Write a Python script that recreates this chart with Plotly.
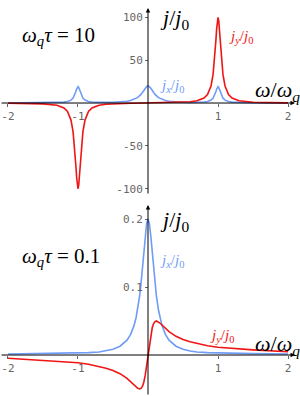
import plotly.graph_objects as go

# ---------------- data ----------------
# top panel: omega_q tau = 10
x_top = [-2, -1.7, -1.5, -1.3, -1.2, -1.15, -1.1, -1.07, -1.05, -1.04, -1.03, -1.02, -1.01, -1,
         -0.99, -0.98, -0.97, -0.96, -0.95, -0.93, -0.9, -0.85, -0.8, -0.7, -0.6, -0.5, -0.4,
         -0.3, -0.25, -0.2, -0.15, -0.1, -0.07, -0.05, -0.03, -0.015, 0,
         0.015, 0.03, 0.05, 0.07, 0.1, 0.15, 0.2, 0.25, 0.3, 0.4, 0.5, 0.6, 0.7, 0.8, 0.85,
         0.9, 0.93, 0.95, 0.96, 0.97, 0.98, 0.99, 1, 1.01, 1.02, 1.03, 1.04, 1.05, 1.07, 1.1,
         1.15, 1.2, 1.3, 1.5, 1.7, 2]
jx_top = [0.09, 0.15, 0.24, 0.54, 1.06, 1.72, 3.37, 5.73, 8.68, 10.8, 13.4, 16.1, 18.3, 19.2,
          18.3, 16.1, 13.4, 10.8, 8.72, 5.79, 3.44, 1.84, 1.23, 0.83, 0.8, 0.94, 1.3,
          2.1, 2.85, 4.09, 6.23, 10.08, 13.45, 16.07, 18.42, 19.63, 20.08,
          19.63, 18.42, 16.07, 13.45, 10.08, 6.23, 4.09, 2.85, 2.1, 1.3, 0.94, 0.8, 0.83, 1.23, 1.84,
          3.44, 5.79, 8.72, 10.8, 13.4, 16.1, 18.3, 19.2, 18.3, 16.1, 13.4, 10.8, 8.68, 5.73, 3.37,
          1.72, 1.06, 0.54, 0.24, 0.15, 0.09]
jy_top = [-0.22, -0.48, -0.95, -2.65, -5.8, -9.9, -19.9, -33.7, -50, -61, -73.5, -86.2, -96.2, -100,
          -96.2, -86.2, -73.5, -61, -50, -33.7, -19.9, -9.9, -5.8, -2.6, -1.44, -0.88, -0.56,
          -0.36, -0.28, -0.22, -0.16, -0.1, -0.07, -0.05, -0.03, -0.015, 0,
          0.015, 0.03, 0.05, 0.07, 0.1, 0.16, 0.22, 0.28, 0.36, 0.56, 0.88, 1.44, 2.6, 5.8, 9.9,
          19.9, 33.7, 50, 61, 73.5, 86.2, 96.2, 100, 96.2, 86.2, 73.5, 61, 50, 33.7, 19.9,
          9.9, 5.8, 2.65, 0.95, 0.48, 0.22]

# bottom panel: omega_q tau = 0.1
x_bot = [-2, -1.5, -1.2, -1, -0.85, -0.7, -0.6, -0.5, -0.4, -0.3, -0.25, -0.2, -0.17, -0.15,
         -0.12, -0.1, -0.08, -0.06, -0.04, -0.02, 0,
         0.02, 0.04, 0.06, 0.08, 0.1, 0.12, 0.15, 0.17, 0.2, 0.25, 0.3, 0.4, 0.5, 0.6, 0.7,
         0.85, 1, 1.2, 1.5, 2]
jx_bot = [0.0015, 0.002, 0.0025, 0.003, 0.0035, 0.0045, 0.006, 0.0084, 0.0129, 0.0218, 0.03,
          0.0432, 0.0552, 0.0658, 0.0867, 0.1049, 0.1266, 0.1507, 0.1747, 0.193, 0.2,
          0.193, 0.1747, 0.1507, 0.1266, 0.1049, 0.0867, 0.0658, 0.0552, 0.0432, 0.03, 0.0218,
          0.0129, 0.0084, 0.006, 0.0045, 0.0035, 0.003, 0.0025, 0.002, 0.0015]
jy_bot = [-0.0048, -0.0076, -0.0097, -0.0115, -0.0137, -0.0167, -0.0194, -0.0227, -0.0275,
          -0.0345, -0.0392, -0.0441, -0.047, -0.0488, -0.05, -0.0492, -0.0462, -0.04, -0.03,
          -0.0162, 0,
          0.0162, 0.03, 0.04, 0.0462, 0.0492, 0.05, 0.0488, 0.047, 0.0441, 0.0392, 0.0345,
          0.0275, 0.0227, 0.0194, 0.0167, 0.0137, 0.0115, 0.0097, 0.0076, 0.0048]

x_ticks = [-2, -1, 1, 2]
x_ticktext = ["-2", "-1", "1", "2"]
y_ticks_top = [-100, -50, 50, 100]
y_ticktext_top = ["-100", "-50", "50", "100"]
y_ticks_bot = [0.1, 0.2]
y_ticktext_bot = ["0.1", "0.2"]

RED = "#f01414"
BLUE = "#6f9cf7"
W, H = 300, 396

def px(x):
    return x / W

def py(y):
    return 1 - y / H

fig = go.Figure()
fig.add_trace(go.Scatter(x=x_top, y=jx_top, mode="lines", line=dict(color=BLUE, width=1.6),
                         xaxis="x", yaxis="y"))
fig.add_trace(go.Scatter(x=x_top, y=jy_top, mode="lines", line=dict(color=RED, width=1.6),
                         xaxis="x", yaxis="y"))
fig.add_trace(go.Scatter(x=x_bot, y=jx_bot, mode="lines", line=dict(color=BLUE, width=1.6),
                         xaxis="x2", yaxis="y2"))
fig.add_trace(go.Scatter(x=x_bot, y=jy_bot, mode="lines", line=dict(color=RED, width=1.6),
                         xaxis="x2", yaxis="y2"))

xr = [-2.114, 2.171]
yr_top = [-107.3, 120.2]
yr_bot = [-0.0603, 0.2309]
tickfont = dict(family="DejaVu Sans Mono", size=11, color="#666666")

common_x = dict(range=xr, showgrid=False, zeroline=False, showline=False, ticks="outside",
                ticklen=3, tickcolor="#666666", tickfont=tickfont, anchor="free", domain=[0, 1],
                fixedrange=True)
common_y = dict(showgrid=False, zeroline=False, showline=False, ticks="outside", ticklen=3,
                tickcolor="#666666", tickfont=tickfont, anchor="free", position=148 / W,
                fixedrange=True)

fig.update_layout(
    width=W, height=H, margin=dict(l=0, r=0, t=0, b=0),
    paper_bgcolor="white", plot_bgcolor="rgba(0,0,0,0)", showlegend=False,
    xaxis=dict(common_x, position=py(103), tickvals=x_ticks, ticktext=x_ticktext),
    yaxis=dict(common_y, domain=[py(195), 1], range=yr_top, tickvals=y_ticks_top,
               ticktext=y_ticktext_top),
    xaxis2=dict(common_x, position=py(355), tickvals=x_ticks, ticktext=x_ticktext),
    yaxis2=dict(common_y, domain=[0, py(198)], range=yr_bot, tickvals=y_ticks_bot,
                ticktext=y_ticktext_bot),
)

# axis lines with arrow heads
arrow = dict(showarrow=True, arrowhead=2, arrowsize=0.9, arrowwidth=1, arrowcolor="black",
             text="", standoff=0)
fig.add_annotation(arrow, x=2.1, y=0, ax=xr[0], ay=0, xref="x", yref="y", axref="x", ayref="y")
fig.add_annotation(arrow, x=0, y=111, ax=0, ay=yr_top[0], xref="x", yref="y", axref="x", ayref="y")
fig.add_annotation(arrow, x=2.1, y=0, ax=xr[0], ay=0, xref="x2", yref="y2", axref="x2", ayref="y2")
fig.add_annotation(arrow, x=0, y=0.2206, ax=0, ay=yr_bot[0], xref="x2", yref="y2", axref="x2",
                   ayref="y2")

serif = "Liberation Serif"

def label(text, x, y, size, color="black"):
    fig.add_annotation(text=text, x=px(x), y=py(y), xref="paper", yref="paper", showarrow=False,
                       xanchor="center", yanchor="middle",
                       font=dict(family=serif, size=size, color=color))

jj0 = "<i>j</i>/<i>j</i><sub>0</sub>"
ww = "<i>ω</i>/<i>ω<sub>q</sub></i>"
jx = "<i>j<sub>x</sub></i>/<i>j</i><sub>0</sub>"
jy = "<i>j<sub>y</sub></i>/<i>j</i><sub>0</sub>"

label("<i>ω<sub>q</sub>τ</i> = 10", 58, 36, 21)
label(jj0, 174, 19, 22)
label(jy, 241, 37, 15, RED)
label(jx, 172, 86, 15, BLUE)
label(ww, 277, 91, 22)

label(jj0, 174, 221, 22)
label("<i>ω<sub>q</sub>τ</i> = 0.1", 61, 257, 21)
label(jx, 172, 261, 15, BLUE)
label(jy, 222, 336, 15, RED)
label(ww, 277, 345, 22)

fig.write_html("out.html", config={"displayModeBar": False},
               post_script="document.body.style.margin='0px';")
